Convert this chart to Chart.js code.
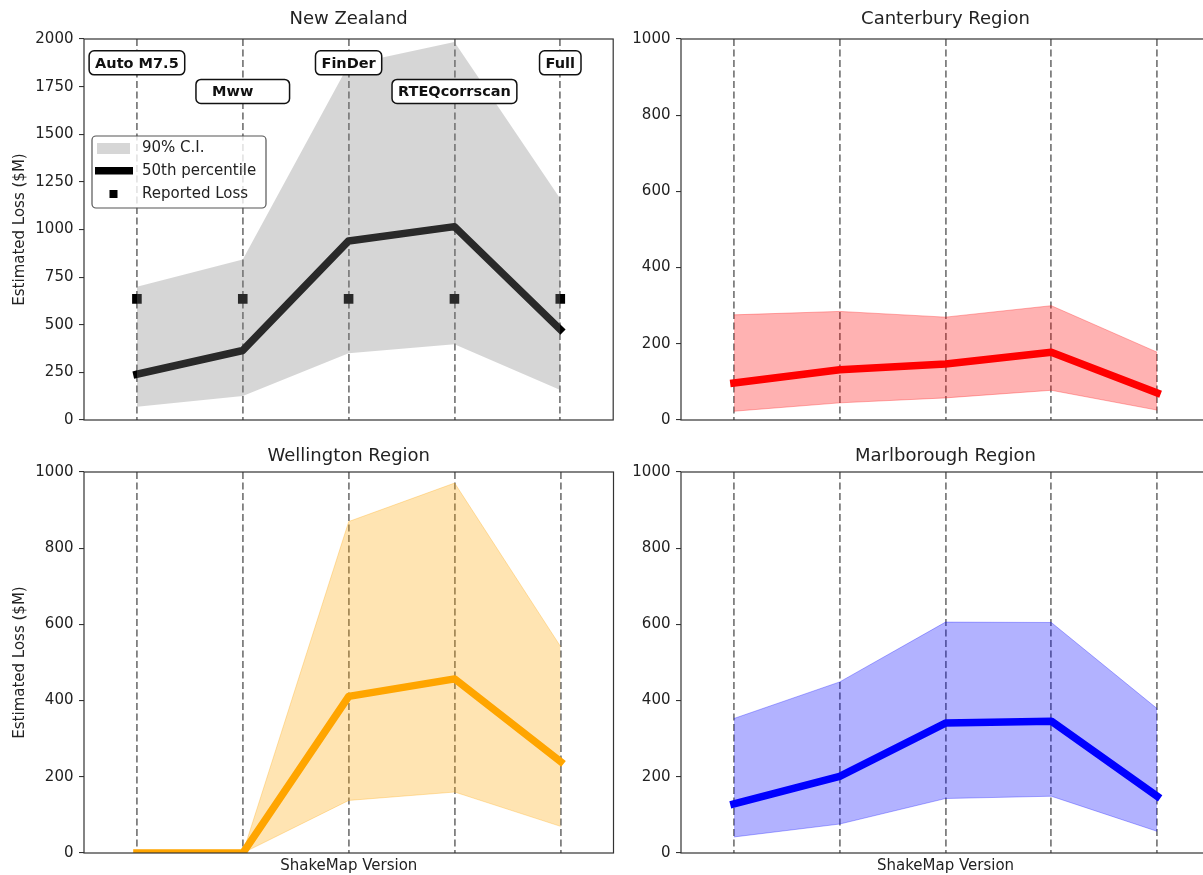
<!DOCTYPE html>
<html>
<head>
<meta charset="utf-8">
<script src="https://cdn.jsdelivr.net/npm/chart.js@4.4.0/dist/chart.umd.min.js"></script>
<style>
    body { margin: 0; background: #fff; overflow: hidden; }
    #figure { position: relative; width: 1203px; height: 875px; overflow: hidden; }
    canvas { position: absolute; }
</style>
</head>
<body>
<div id="figure">
    <canvas id="nz" width="620" height="436" style="left:0;top:0"></canvas>
    <canvas id="canterbury" width="620" height="436" style="left:600px;top:0"></canvas>
    <canvas id="wellington" width="620" height="439" style="left:0;top:436px"></canvas>
    <canvas id="marlborough" width="620" height="439" style="left:600px;top:436px"></canvas>
</div>
<script>
const versions = ['Auto M7.5', 'Mww', 'FinDer', 'RTEQcorrscan', 'Full'];
const versionBoxText = ['Auto M7.5', '  Mww      ', 'FinDer', 'RTEQcorrscan', 'Full'];
const versionBoxLevel = [1875, 1725, 1875, 1725, 1875];
const legendLabels = ['90% C.I.', '50th percentile', 'Reported Loss'];

const nzMedian = [240, 365, 940, 1015, 475];
const nzLower = [70, 126, 350, 397, 157];
const nzUpper = [699, 843, 1865, 1984, 1161];
const nzReported = [636, 636, 636, 636, 636];

const canterburyMedian = [97, 132, 147, 178, 71];
const canterburyLower = [23, 45, 58, 78, 26];
const canterburyUpper = [276, 285, 270, 300, 178];

const wellingtonMedian = [0, 0, 411, 457, 240];
const wellingtonLower = [0, 0, 138, 160, 70];
const wellingtonUpper = [0, 0, 870, 971, 542];

const marlboroughMedian = [129, 201, 341, 346, 149];
const marlboroughLower = [42, 76, 143, 149, 57];
const marlboroughUpper = [353, 449, 606, 605, 379];

Chart.defaults.font.family = "'DejaVu Sans', sans-serif";
Chart.defaults.color = '#222';

const FONT = "'DejaVu Sans', sans-serif";
const nzBand = 'rgba(128,128,128,0.32)';

const frame = {
    id: 'frame',
    afterDatasetsDraw(chart) {
        const {ctx, chartArea: a} = chart;
        ctx.save();
        ctx.strokeStyle = '#333';
        ctx.lineWidth = 1.2;
        ctx.strokeRect(a.left, a.top, a.right - a.left, a.bottom - a.top);
        ctx.restore();
    }
};

const versionBoxes = {
    id: 'versionBoxes',
    afterDatasetsDraw(chart) {
        const ctx = chart.ctx;
        const xs = chart.scales.x, ys = chart.scales.y;
        ctx.save();
        ctx.font = 'bold 14.5px ' + FONT;
        ctx.textBaseline = 'middle';
        versionBoxText.forEach((text, i) => {
            const w = ctx.measureText(text).width + 12;
            const h = 24;
            const x = xs.getPixelForValue(i) - w / 2;
            const y = ys.getPixelForValue(versionBoxLevel[i]) - h / 2;
            ctx.beginPath();
            ctx.roundRect(x, y, w, h, 5);
            ctx.fillStyle = '#fff';
            ctx.fill();
            ctx.strokeStyle = '#111';
            ctx.lineWidth = 1.5;
            ctx.stroke();
            ctx.fillStyle = '#111';
            ctx.fillText(text, x + 6, y + h / 2 + 1);
        });
        ctx.restore();
    }
};

const nzLegend = {
    id: 'nzLegend',
    afterDatasetsDraw(chart) {
        const {ctx, chartArea: a} = chart;
        const x = a.left + 8, y = a.top + 97, w = 174, h = 72;
        ctx.save();
        ctx.beginPath();
        ctx.roundRect(x, y, w, h, 4);
        ctx.fillStyle = 'rgba(255,255,255,0.8)';
        ctx.fill();
        ctx.strokeStyle = '#555';
        ctx.lineWidth = 1.2;
        ctx.stroke();

        ctx.fillStyle = nzBand;
        ctx.fillRect(x + 5, y + 7, 33, 11);
        ctx.fillStyle = '#000';
        ctx.fillRect(x + 3, y + 31, 38, 7.5);
        ctx.fillRect(x + 17.5, y + 54, 8, 8);

        ctx.font = '15px ' + FONT;
        ctx.fillStyle = '#222';
        ctx.textBaseline = 'middle';
        ctx.fillText(legendLabels[0], x + 50, y + 12.5);
        ctx.fillText(legendLabels[1], x + 50, y + 35);
        ctx.fillText(legendLabels[2], x + 50, y + 58);
        ctx.restore();
    }
};

function regionChart(canvasId, title, median, lower, upper, lineColor, bandColor, o) {
    const datasets = [{
        data: upper,
        borderColor: bandColor,
        borderWidth: o.edge,
        pointRadius: 0,
        fill: false
    }, {
        data: lower,
        borderColor: bandColor,
        borderWidth: o.edge,
        backgroundColor: bandColor,
        pointRadius: 0,
        fill: '-1'
    }, {
        data: median,
        borderColor: lineColor,
        borderWidth: 7.5,
        borderCapStyle: 'square',
        borderJoinStyle: 'round',
        pointRadius: 0,
        fill: false
    }];
    if (o.reported) {
        datasets.push({
            data: o.reported,
            showLine: false,
            pointStyle: 'rect',
            pointRadius: 6.8,
            pointBackgroundColor: '#000',
            pointBorderWidth: 0
        });
    }

    const config = {
        type: 'line',
        data: {
            labels: versions,
            datasets: datasets
        },
        options: {
            responsive: false,
            animation: false,
            devicePixelRatio: 1,
            layout: {
                padding: {left: 0, right: o.padRight, top: 0, bottom: 0}
            },
            plugins: {
                legend: {display: false},
                tooltip: {enabled: false},
                title: {
                    display: true,
                    text: title,
                    fullSize: false,
                    color: '#222',
                    font: {size: 18, weight: 'normal'},
                    padding: o.titlePad
                }
            },
            scales: {
                x: {
                    type: 'category',
                    offset: true,
                    grid: {offset: false, color: '#7f7f7f', lineWidth: 1.8, drawTicks: false},
                    border: {display: false, dash: [7, 3.5]},
                    ticks: {display: false},
                    title: {
                        display: o.xTitle,
                        text: 'ShakeMap Version',
                        color: '#222',
                        font: {size: 15},
                        padding: {top: 0, bottom: 0}
                    },
                    afterFit: function(s) { s.height = o.xHeight; }
                },
                y: {
                    min: 0,
                    max: o.max,
                    ticks: {
                        stepSize: o.step,
                        color: '#222',
                        font: {size: 15},
                        padding: 5.5,
                        callback: v => String(v)
                    },
                    grid: {drawOnChartArea: false, tickLength: 5, color: '#333', lineWidth: 1.1},
                    border: {display: false},
                    title: {
                        display: o.yTitle,
                        text: 'Estimated Loss ($M)',
                        color: '#222',
                        font: {size: 15},
                        padding: {top: 11, bottom: 0}
                    },
                    afterFit: function(s) { s.width = o.yWidth; }
                }
            }
        },
        plugins: [frame].concat(o.extra || [])
    };
    return new Chart(document.getElementById(canvasId), config);
}

regionChart('nz', 'New Zealand', nzMedian, nzLower, nzUpper, '#000', nzBand, {
    edge: 0, reported: nzReported, max: 2000, step: 250,
    yTitle: true, xTitle: false, yWidth: 84, xHeight: 16, padRight: 6.5,
    titlePad: {top: 9, bottom: 8.4}, extra: [versionBoxes, nzLegend]
});

regionChart('canterbury', 'Canterbury Region', canterburyMedian, canterburyLower, canterburyUpper,
    '#ff0000', 'rgba(255,0,0,0.3)', {
    edge: 1, max: 1000, step: 200,
    yTitle: false, xTitle: false, yWidth: 81, xHeight: 16, padRight: 10,
    titlePad: {top: 9, bottom: 8.4}
});

regionChart('wellington', 'Wellington Region', wellingtonMedian, wellingtonLower, wellingtonUpper,
    '#ffa500', 'rgba(255,165,0,0.3)', {
    edge: 1, max: 1000, step: 200,
    yTitle: true, xTitle: true, yWidth: 84, xHeight: 22, padRight: 6.5,
    titlePad: {top: 9.2, bottom: 5.2}
});

regionChart('marlborough', 'Marlborough Region', marlboroughMedian, marlboroughLower, marlboroughUpper,
    '#0000ff', 'rgba(0,0,255,0.3)', {
    edge: 1, max: 1000, step: 200,
    yTitle: false, xTitle: true, yWidth: 81, xHeight: 22, padRight: 10,
    titlePad: {top: 9.2, bottom: 5.2}
});
</script>
</body>
</html>
